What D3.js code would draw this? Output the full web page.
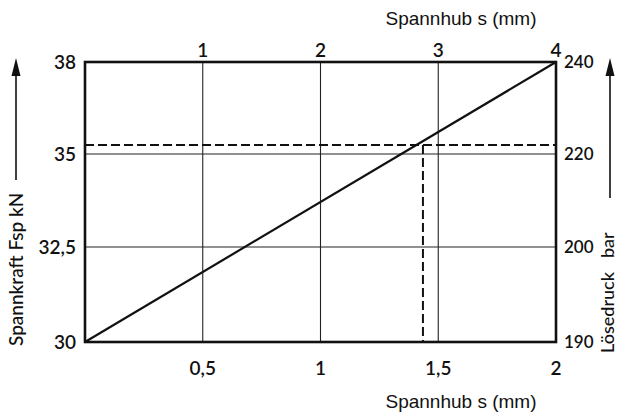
<!DOCTYPE html>
<html><head><meta charset="utf-8">
<script src="https://d3js.org/d3.v7.min.js"></script>
<style>body{margin:0;background:#fff}</style>
</head><body>
<svg id="c" width="617" height="412"></svg>
<script>
// Data
const bottomTicks = [0.5, 1, 1.5, 2];
const bottomLabels = ["0,5", "1", "1,5", "2"];
const topTicks = [1, 2, 3, 4];
const topLabels = ["1", "2", "3", "4"];
const leftTicks = [30, 32.5, 35, 38];
const leftLabels = ["30", "32,5", "35", "38"];
const rightTicks = [190, 200, 220, 240];
const rightLabels = ["190", "200", "220", "240"];
const lineS = [0, 2];
const lineF = [30, 38];
const markS = 1.435;
const markF = 35.29;

const svg = d3.select("#c");
const L = 85, R = 556, T = 62, B = 342;
const x = d3.scaleLinear().domain([0, 2]).range([L, R]);
const xTop = d3.scaleLinear().domain([0, 4]).range([L, R]);
const yL = d3.scaleLinear().domain(leftTicks).range([B, 247, 154, T]);
const yR = d3.scaleLinear().domain(rightTicks).range([B, 247, 154, T]);

const numFont = "Lato, 'DejaVu Sans', sans-serif";
const titleFont = "'Liberation Sans', Arial, sans-serif";

// gridlines
svg.append("g").selectAll("line").data(bottomTicks.slice(0, 3)).join("line")
  .attr("x1", d => x(d)).attr("x2", d => x(d)).attr("y1", T).attr("y2", B)
  .attr("stroke", "#222").attr("stroke-width", 1.1);
svg.append("g").selectAll("line").data([32.5, 35]).join("line")
  .attr("x1", L).attr("x2", R).attr("y1", d => yL(d)).attr("y2", d => yL(d))
  .attr("stroke", "#222").attr("stroke-width", 1.1);

// dashed guide lines
svg.append("line").attr("x1", L).attr("x2", R).attr("y1", yL(markF)).attr("y2", yL(markF))
  .attr("stroke", "#111").attr("stroke-width", 2).attr("stroke-dasharray", "9,4");
svg.append("line").attr("x1", x(markS)).attr("x2", x(markS)).attr("y1", yL(markF)).attr("y2", B)
  .attr("stroke", "#111").attr("stroke-width", 2).attr("stroke-dasharray", "9,4");

// data line
svg.append("path").datum(lineS.map((s, i) => [s, lineF[i]]))
  .attr("d", d3.line().x(d => x(d[0])).y(d => yL(d[1])))
  .attr("fill", "none").attr("stroke", "#111").attr("stroke-width", 2.2);

// frame
svg.append("rect").attr("x", L).attr("y", T).attr("width", R - L).attr("height", B - T)
  .attr("fill", "none").attr("stroke", "#111").attr("stroke-width", 2.6);

// tick labels
const num = (sel, fs) => sel.attr("font-family", numFont).attr("font-size", fs).attr("font-weight", 600).attr("fill", "#111");
svg.append("g").selectAll("text").data(bottomTicks).join("text")
  .attr("x", d => x(d)).attr("y", 375).attr("text-anchor", "middle")
  .text((d, i) => bottomLabels[i]).call(num, 19);
svg.append("g").selectAll("text").data(topTicks).join("text")
  .attr("x", d => xTop(d)).attr("y", 57).attr("text-anchor", "middle")
  .text((d, i) => topLabels[i]).call(num, 19);
svg.append("g").selectAll("text").data(leftTicks).join("text")
  .attr("x", 76).attr("y", d => yL(d) + 7).attr("text-anchor", "end")
  .text((d, i) => leftLabels[i]).call(num, 19);
svg.append("g").selectAll("text").data(rightTicks).join("text")
  .attr("x", 564).attr("y", d => yR(d) + 6).attr("text-anchor", "start")
  .text((d, i) => rightLabels[i]).call(num, 17);

// axis titles
svg.append("text").attr("x", 461).attr("y", 25).attr("text-anchor", "middle")
  .attr("font-family", titleFont).attr("font-size", 19).attr("fill", "#111").text("Spannhub s (mm)");
svg.append("text").attr("x", 461).attr("y", 408).attr("text-anchor", "middle")
  .attr("font-family", titleFont).attr("font-size", 19).attr("fill", "#111").text("Spannhub s (mm)");

// left rotated title with arrow
svg.append("text").attr("transform", "translate(23,346) rotate(-90)")
  .attr("font-family", numFont).attr("font-size", 19).attr("font-weight", 500).attr("fill", "#111")
  .text("Spannkraft Fsp kN");
svg.append("line").attr("x1", 16).attr("x2", 16).attr("y1", 180).attr("y2", 72)
  .attr("stroke", "#111").attr("stroke-width", 1.6);
svg.append("path").attr("d", "M16,58 L11.5,76 L20.5,76 Z").attr("fill", "#111");

// right rotated title with arrow
svg.append("text").attr("transform", "translate(614,353) rotate(-90)")
  .attr("font-family", numFont).attr("font-size", 18).attr("font-weight", 500).attr("fill", "#111")
  .text("Lösedruck");
svg.append("text").attr("transform", "translate(614,258) rotate(-90)")
  .attr("font-family", numFont).attr("font-size", 18).attr("font-weight", 500).attr("fill", "#111")
  .text("bar");
svg.append("line").attr("x1", 610).attr("x2", 610).attr("y1", 198).attr("y2", 72)
  .attr("stroke", "#111").attr("stroke-width", 1.6);
svg.append("path").attr("d", "M610,58 L605.5,76 L614.5,76 Z").attr("fill", "#111");
</script>
</body></html>
